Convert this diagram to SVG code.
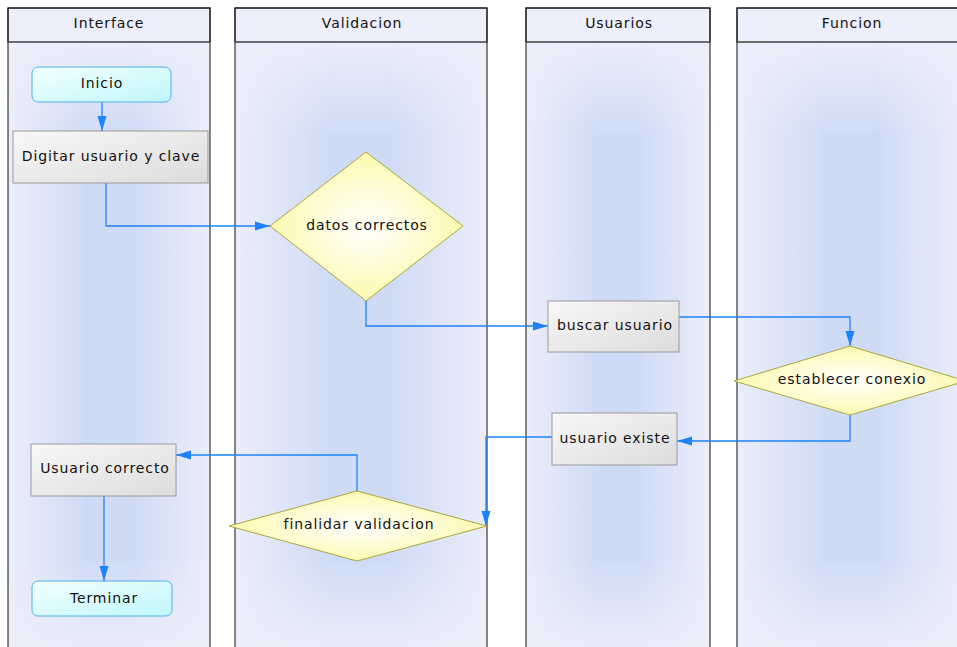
<svg xmlns="http://www.w3.org/2000/svg" width="957" height="647" viewBox="0 0 957 647">
  <style>
    text { font-family: "DejaVu Sans", Verdana, sans-serif; font-size: 14px; letter-spacing: 0.9px; fill: #111; text-anchor: middle; dominant-baseline: central; }
    .lane-border { fill: none; stroke: #111; stroke-width: 1; }
    .lane-head { fill: #eeeffc; stroke: #111; stroke-width: 1; }
    .head-line { stroke: #555; stroke-width: 1; }
    .lane-bg { fill: #eceefb; }
    .lane-glow { fill: url(#laneBand); }
    .term { fill: url(#termFill); stroke: #4fb0e8; stroke-width: 1; }
    .proc { fill: url(#procFill); stroke: #9a9a9a; stroke-width: 1; }
    .dec { fill: url(#decFill); stroke: #a8a840; stroke-width: 1; }
    .conn { fill: none; stroke: #1e82ff; stroke-width: 1.3; marker-end: url(#arrow); }
  </style>
  <defs>
    <linearGradient id="laneBand" x1="0" y1="0" x2="1" y2="0">
      <stop offset="0" stop-color="#cfdbf5" stop-opacity="0"/>
      <stop offset="0.38" stop-color="#cfdbf5" stop-opacity="1"/>
      <stop offset="0.62" stop-color="#cfdbf5" stop-opacity="1"/>
      <stop offset="1" stop-color="#cfdbf5" stop-opacity="0"/>
    </linearGradient>
    <linearGradient id="fadeV" x1="0" y1="0" x2="0" y2="1">
      <stop offset="0" stop-color="#fff" stop-opacity="0"/>
      <stop offset="0.15" stop-color="#fff" stop-opacity="1"/>
      <stop offset="0.85" stop-color="#fff" stop-opacity="1"/>
      <stop offset="1" stop-color="#fff" stop-opacity="0"/>
    </linearGradient>
    <mask id="laneMask" maskContentUnits="objectBoundingBox">
      <rect x="0" y="0" width="1" height="1" fill="url(#fadeV)"/>
    </mask>
    <linearGradient id="termFill" x1="0" y1="0" x2="1" y2="1">
      <stop offset="0" stop-color="#f4ffff"/>
      <stop offset="1" stop-color="#bff7fb"/>
    </linearGradient>
    <linearGradient id="procFill" x1="0" y1="0" x2="1" y2="1">
      <stop offset="0" stop-color="#f8f8f8"/>
      <stop offset="1" stop-color="#dcdcdc"/>
    </linearGradient>
    <radialGradient id="decFill" cx="0.5" cy="0.5" r="0.5">
      <stop offset="0" stop-color="#ffffff"/>
      <stop offset="1" stop-color="#fdf9b0"/>
    </radialGradient>
    <marker id="arrow" markerUnits="userSpaceOnUse" markerWidth="16" markerHeight="12" viewBox="0 0 16 12" refX="15" refY="6" orient="auto">
      <path d="M0,1.5 L15,6 L0,10.5 Z" fill="#1e82ff"/>
    </marker>
  </defs>

  <!-- swimlanes -->
  <g id="lane-interface">
    <rect class="lane-bg" x="8" y="42" width="202" height="610"/>
    <rect class="lane-glow" x="8" y="42" width="202" height="610" mask="url(#laneMask)"/>
    <rect class="lane-head" x="8" y="8" width="202" height="34"/>
    <rect class="lane-border" x="8" y="8" width="202" height="650"/>
    <line class="head-line" x1="8" y1="42" x2="210" y2="42"/>
    <text x="109" y="23">Interface</text>
  </g>
  <g id="lane-validacion">
    <rect class="lane-bg" x="235" y="42" width="252" height="610"/>
    <rect class="lane-glow" x="235" y="42" width="252" height="610" mask="url(#laneMask)"/>
    <rect class="lane-head" x="235" y="8" width="252" height="34"/>
    <rect class="lane-border" x="235" y="8" width="252" height="650"/>
    <line class="head-line" x1="235" y1="42" x2="487" y2="42"/>
    <text x="362" y="23">Validacion</text>
  </g>
  <g id="lane-usuarios">
    <rect class="lane-bg" x="526" y="42" width="184" height="610"/>
    <rect class="lane-glow" x="526" y="42" width="184" height="610" mask="url(#laneMask)"/>
    <rect class="lane-head" x="526" y="8" width="184" height="34"/>
    <rect class="lane-border" x="526" y="8" width="184" height="650"/>
    <line class="head-line" x1="526" y1="42" x2="710" y2="42"/>
    <text x="619" y="23">Usuarios</text>
  </g>
  <g id="lane-funcion">
    <rect class="lane-bg" x="737" y="42" width="228" height="610"/>
    <rect class="lane-glow" x="737" y="42" width="228" height="610" mask="url(#laneMask)"/>
    <rect class="lane-head" x="737" y="8" width="228" height="34"/>
    <rect class="lane-border" x="737" y="8" width="228" height="650"/>
    <line class="head-line" x1="737" y1="42" x2="965" y2="42"/>
    <text x="852" y="23">Funcion</text>
  </g>

  <!-- connectors -->
  <g id="connectors">
    <path class="conn" d="M102,102 L102,131"/>
    <path class="conn" d="M106,183 L106,226 L270,226"/>
    <path class="conn" d="M366,301 L366,326 L548,326"/>
    <path class="conn" d="M679,317 L850,317 L850,346"/>
    <path class="conn" d="M850,415 L850,441 L677,441"/>
    <path class="conn" d="M552,437 L486,437 L486,526"/>
    <path class="conn" d="M357,491 L357,455 L176,455"/>
    <path class="conn" d="M104,496 L104,581"/>
  </g>

  <!-- nodes -->
  <g id="inicio">
    <rect class="term" x="32" y="67" width="139" height="35" rx="6"/>
    <text x="102" y="83">Inicio</text>
  </g>
  <g id="digitar">
    <rect class="proc" x="13" y="131" width="195" height="52"/>
    <text x="111" y="156">Digitar usuario y clave</text>
  </g>
  <g id="datos-correctos">
    <polygon class="dec" points="366,152 463,226 366,301 270,226"/>
    <text x="367" y="225">datos correctos</text>
  </g>
  <g id="buscar-usuario">
    <rect class="proc" x="548" y="301" width="131" height="51"/>
    <text x="615" y="325">buscar usuario</text>
  </g>
  <g id="establecer-conexio">
    <polygon class="dec" points="850,346 966,381 850,415 734,381"/>
    <text x="852" y="379">establecer conexio</text>
  </g>
  <g id="usuario-existe">
    <rect class="proc" x="552" y="413" width="125" height="52"/>
    <text x="615" y="438">usuario existe</text>
  </g>
  <g id="usuario-correcto">
    <rect class="proc" x="31" y="444" width="145" height="52"/>
    <text x="105" y="468">Usuario correcto</text>
  </g>
  <g id="finalidar-validacion">
    <polygon class="dec" points="357,491 487,526 357,561 229,526"/>
    <text x="359" y="524">finalidar validacion</text>
  </g>
  <g id="terminar">
    <rect class="term" x="32" y="581" width="140" height="35" rx="6"/>
    <text x="104" y="598">Terminar</text>
  </g>
</svg>
